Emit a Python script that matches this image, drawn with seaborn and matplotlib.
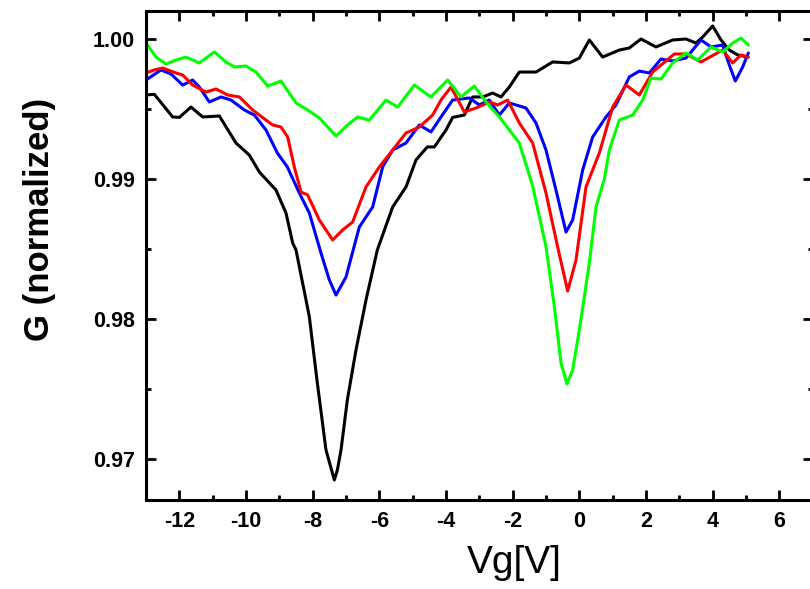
import matplotlib
matplotlib.use("Agg")
import matplotlib.pyplot as plt
import seaborn as sns
import pandas as pd
from matplotlib.ticker import MultipleLocator, FormatStrFormatter

# ---------------- data ----------------
black_x = [-13.0, -12.75, -12.2, -12.0, -11.65, -11.3, -10.8, -10.3, -9.9, -9.6, -9.1, -8.8, -8.6, -8.5,
           -8.2, -8.1, -7.86, -7.6, -7.35, -7.26, -7.15, -6.96, -6.7, -6.4, -6.06, -5.6, -5.2, -4.9, -4.56,
           -4.35, -4.0, -3.8, -3.45, -3.2, -2.9, -2.6, -2.35, -2.1, -1.8, -1.3, -0.8, -0.3, 0.0, 0.3, 0.7,
           1.2, 1.5, 1.85, 2.3, 2.8, 3.2, 3.5, 3.7, 4.0, 4.25, 4.5, 4.75, 5.05]
black_y = [0.9960, 0.99605, 0.99443, 0.9944, 0.99514, 0.99443, 0.9945, 0.99257, 0.99171, 0.9905, 0.98921,
           0.98757, 0.98543, 0.98493, 0.98136, 0.98016, 0.97543, 0.97064, 0.9685, 0.9692, 0.97064, 0.97421,
           0.97779, 0.98136, 0.98493, 0.988, 0.98943, 0.99136, 0.99229, 0.99229, 0.9935, 0.9944, 0.99457,
           0.99586, 0.99586, 0.99614, 0.99586, 0.99657, 0.99764, 0.99764, 0.99836, 0.99829, 0.99864, 0.99993,
           0.99871, 0.99921, 0.99936, 1.0, 0.99943, 0.99993, 1.0, 0.99971, 1.00014, 1.00093, 0.99993,
           0.99921, 0.99886, 0.99871]

blue_x = [-13.0, -12.55, -12.25, -11.9, -11.6, -11.4, -11.1, -10.75, -10.45, -10.05, -9.75, -9.4, -9.06,
          -8.76, -8.4, -8.1, -7.75, -7.5, -7.3, -7.0, -6.6, -6.2, -5.9, -5.6, -5.2, -4.8, -4.45, -4.15, -3.8,
          -3.3, -3.0, -2.7, -2.4, -2.1, -1.6, -1.3, -1.0, -0.7, -0.4, -0.2, 0.1, 0.4, 0.8, 1.1, 1.5, 1.8,
          2.1, 2.45, 2.8, 3.2, 3.65, 3.95, 4.3, 4.5, 4.68, 4.9, 5.07]
blue_y = [0.99707, 0.99779, 0.9975, 0.99671, 0.99707, 0.99657, 0.9955, 0.99586, 0.99564, 0.99493, 0.99457,
          0.9935, 0.99186, 0.99086, 0.989, 0.98757, 0.98471, 0.98279, 0.98171, 0.983, 0.98657, 0.988,
          0.99086, 0.99207, 0.99257, 0.99386, 0.99336, 0.99443, 0.99564, 0.99579, 0.99529, 0.99564, 0.99457,
          0.99543, 0.99507, 0.994, 0.99207, 0.98921, 0.98621, 0.98707, 0.99064, 0.993, 0.99443, 0.99529,
          0.99729, 0.99771, 0.99757, 0.99857, 0.99843, 0.99864, 0.99993, 0.99943, 0.99957, 0.99814, 0.997,
          0.998, 0.999]

red_x = [-13.0, -12.75, -12.5, -12.1, -11.9, -11.6, -11.2, -10.9, -10.55, -10.2, -9.8, -9.4, -9.2, -8.95,
         -8.75, -8.55, -8.35, -8.15, -7.8, -7.4, -7.1, -6.8, -6.4, -6.0, -5.6, -5.2, -4.8, -4.4, -4.15,
         -3.85, -3.45, -3.1, -2.7, -2.45, -2.15, -1.8, -1.4, -1.0, -0.65, -0.35, -0.1, 0.2, 0.6, 1.0, 1.4,
         1.8, 2.2, 2.85, 3.2, 3.65, 4.3, 4.6, 4.85, 5.07]
red_y = [0.99757, 0.99779, 0.99793, 0.99757, 0.99743, 0.99671, 0.99621, 0.99643, 0.996, 0.99586, 0.99493,
         0.99421, 0.99386, 0.99371, 0.993, 0.99086, 0.98907, 0.98886, 0.98707, 0.98564, 0.98636, 0.98693,
         0.98943, 0.99086, 0.99207, 0.99329, 0.99371, 0.99457, 0.99564, 0.99657, 0.99479, 0.99507, 0.9955,
         0.99529, 0.99564, 0.994, 0.99257, 0.989, 0.98514, 0.982, 0.98421, 0.98943, 0.99186, 0.99514,
         0.99671, 0.996, 0.99764, 0.99893, 0.99893, 0.99836, 0.99921, 0.99829, 0.99886, 0.99871]

green_x = [-13.0, -12.7, -12.4, -12.1, -11.8, -11.4, -10.95, -10.6, -10.35, -10.0, -9.7, -9.35, -8.95, -8.5,
           -8.15, -7.8, -7.3, -6.95, -6.65, -6.3, -5.8, -5.45, -4.95, -4.45, -3.95, -3.55, -3.15, -2.8,
           -2.4, -1.8, -1.4, -1.0, -0.75, -0.55, -0.37, -0.2, 0.0, 0.3, 0.5, 0.75, 0.9, 1.2, 1.6, 1.9,
           2.15, 2.45, 2.8, 3.2, 3.55, 3.95, 4.3, 4.6, 4.85, 5.07]
green_y = [0.99971, 0.99871, 0.99821, 0.9985, 0.99871, 0.99829, 0.99907, 0.99836, 0.998, 0.99807, 0.99764,
           0.99664, 0.997, 0.99543, 0.99493, 0.99436, 0.99307, 0.99386, 0.99443, 0.99421, 0.99564, 0.99514,
           0.99671, 0.99586, 0.99707, 0.99586, 0.99664, 0.9955, 0.99443, 0.99257, 0.9895, 0.98516, 0.9809,
           0.97686, 0.97536, 0.97636, 0.97921, 0.984, 0.988, 0.99, 0.99207, 0.99421, 0.99457, 0.99564,
           0.99721, 0.99714, 0.99829, 0.999, 0.9985, 0.99943, 0.99907, 0.99971, 1.00007, 0.99957]

series_names = ["black", "blue", "red", "green"]
series_colors = ["#000000", "#0000FF", "#FF0000", "#00FF00"]

x_label = "Vg[V]"
y_label = "G (normalized)"

# ---------------- build long-form table ----------------
frames = []
for name, xs, ys in zip(series_names,
                        [black_x, blue_x, red_x, green_x],
                        [black_y, blue_y, red_y, green_y]):
    frames.append(pd.DataFrame({"Vg": xs, "G": ys, "series": name}))
df = pd.concat(frames, ignore_index=True)

# ---------------- figure ----------------
sns.set_theme(style="ticks")
plt.rcParams["font.family"] = ["Liberation Sans", "DejaVu Sans"]
plt.rcParams["axes.unicode_minus"] = False
plt.rcParams["lines.solid_joinstyle"] = "round"
plt.rcParams["lines.solid_capstyle"] = "round"
plt.rcParams["text.color"] = "black"
plt.rcParams["axes.labelcolor"] = "black"
plt.rcParams["xtick.color"] = "black"
plt.rcParams["ytick.color"] = "black"
plt.rcParams["xtick.labelcolor"] = "black"
plt.rcParams["ytick.labelcolor"] = "black"

W, H = 810, 589
fig = plt.figure(figsize=(W / 100, H / 100), dpi=100)
ax_left, ax_bottom_px, ax_top_px = 146, 500, 11
xmin, xmax = -13, 7
px_per_unit = 600 / 18.0
ax_w = (xmax - xmin) * px_per_unit
ax_h = ax_bottom_px - ax_top_px
ax = fig.add_axes([ax_left / W, (H - ax_bottom_px) / H, ax_w / W, ax_h / H])

sns.lineplot(data=df, x="Vg", y="G", hue="series", hue_order=series_names,
             palette=dict(zip(series_names, series_colors)),
             sort=False, estimator=None, linewidth=2.2, legend=False, ax=ax)

ax.set_xlim(xmin, xmax)
ax.set_ylim(0.96707, 1.0020)

ax.xaxis.set_major_locator(MultipleLocator(2))
ax.xaxis.set_minor_locator(MultipleLocator(1))
ax.yaxis.set_major_locator(MultipleLocator(0.01))
ax.yaxis.set_minor_locator(MultipleLocator(0.005))
ax.yaxis.set_major_formatter(FormatStrFormatter("%.2f"))

for s in ax.spines.values():
    s.set_visible(True)
    s.set_linewidth(2.2)
    s.set_color("black")

ax.tick_params(which="both", direction="in", top=True, right=True, color="black",
               labelcolor="black", width=2.0)
ax.tick_params(which="major", length=7.5, pad=8, labelsize=15.5)
ax.tick_params(which="minor", length=3.8)
for lab in ax.get_xticklabels() + ax.get_yticklabels():
    lab.set_fontweight("bold")

ax.set_xlabel(x_label, fontsize=28, fontweight="normal", color="black")
ax.set_ylabel(y_label, fontsize=25, fontweight="bold", color="black")
ax.xaxis.set_label_coords((514 - ax_left) / ax_w, -(563 - ax_bottom_px) / ax_h, transform=ax.transAxes)
ax.xaxis.label.set_va("center")
ax.yaxis.set_label_coords(-(146 - 40) / ax_w, (ax_bottom_px - 219) / ax_h, transform=ax.transAxes)
ax.yaxis.label.set_va("center")
ax.grid(False)

fig.savefig("out.png", dpi=100)
